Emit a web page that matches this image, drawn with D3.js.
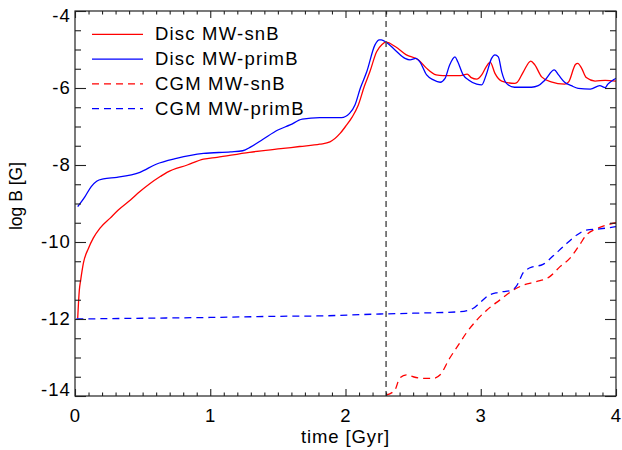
<!DOCTYPE html>
<html>
<head>
<meta charset="utf-8">
<script src="https://cdn.jsdelivr.net/npm/d3@7"></script>
<style>
  body { margin: 0; background: #fff; }
  svg { display: block; }
  text { font-family: "Liberation Sans", Arial, Helvetica, sans-serif; fill: #000; }
</style>
</head>
<body>
<svg id="chart" width="622" height="450"></svg>
<script>
// Disc, MW-snB run (log B in Gauss vs time in Gyr)
const discSnTime = [0.02, 0.032, 0.042, 0.062, 0.10, 0.135, 0.185, 0.26, 0.32, 0.41, 0.48, 0.555, 0.63, 0.68,
  0.83, 0.95, 1.05, 1.29, 1.54, 1.66, 1.81, 1.885, 1.96, 2.0, 2.05, 2.095, 2.14, 2.18, 2.23, 2.27, 2.30,
  2.37, 2.45, 2.54, 2.60, 2.67, 2.72, 2.85, 2.90, 2.93, 2.97, 3.007, 3.04, 3.07, 3.105, 3.155, 3.25, 3.27,
  3.315, 3.37, 3.40, 3.45, 3.52, 3.62, 3.65, 3.70, 3.717, 3.746, 3.78, 3.845, 3.92, 4.00];
const discSnLogB = [-11.98, -11.25, -10.99, -10.55, -10.16, -9.90, -9.64, -9.38, -9.17, -8.91, -8.69, -8.48, -8.30, -8.19,
  -8.00, -7.85, -7.80, -7.67, -7.57, -7.52, -7.46, -7.40, -7.18, -7.00, -6.75, -6.44, -5.95, -5.58, -5.06, -4.87, -4.81,
  -4.93, -5.14, -5.27, -5.49, -5.66, -5.68, -5.68, -5.64, -5.73, -5.77, -5.66, -5.45, -5.33, -5.62, -5.82, -5.88, -5.85,
  -5.58, -5.30, -5.40, -5.71, -5.84, -5.90, -5.84, -5.39, -5.36, -5.49, -5.73, -5.82, -5.80, -5.82];

// Disc, MW-primB run
const discPrimTime = [0.02, 0.074, 0.12, 0.16, 0.21, 0.31, 0.48, 0.60, 0.75, 0.95, 1.15, 1.24, 1.30, 1.39, 1.50, 1.59,
  1.68, 1.81, 1.97, 2.03, 2.07, 2.11, 2.157, 2.218, 2.25, 2.265, 2.30, 2.366, 2.44, 2.477, 2.52, 2.55, 2.60,
  2.65, 2.70, 2.736, 2.77, 2.81, 2.83, 2.87, 2.91, 2.97, 3.007, 3.04, 3.08, 3.105, 3.13, 3.155, 3.19, 3.25,
  3.375, 3.425, 3.475, 3.544, 3.575, 3.62, 3.67, 3.72, 3.81, 3.88, 3.92, 3.94, 3.98, 4.00];
const discPrimLogB = [-9.08, -8.82, -8.56, -8.42, -8.36, -8.32, -8.19, -7.98, -7.83, -7.70, -7.66, -7.63, -7.53, -7.33, -7.09, -6.96,
  -6.81, -6.77, -6.77, -6.66, -6.44, -6.00, -5.58, -4.88, -4.75, -4.75, -4.81, -5.01, -5.23, -5.27, -5.23, -5.32, -5.66,
  -5.79, -5.85, -5.75, -5.40, -5.19, -5.32, -5.66, -5.79, -5.90, -5.92, -5.66, -5.23, -5.14, -5.19, -5.58, -5.88, -5.98,
  -5.98, -5.94, -5.79, -5.53, -5.66, -5.85, -5.94, -6.01, -6.03, -5.94, -5.99, -5.90, -5.79, -5.75];

// CGM, MW-snB run
const cgmSnTime = [2.30, 2.366, 2.40, 2.45, 2.50, 2.575, 2.65, 2.70, 2.77, 2.834, 2.90, 2.97, 3.044, 3.14, 3.24,
  3.315, 3.41, 3.51, 3.586, 3.66, 3.73, 3.78, 3.86, 3.93, 4.00];
const cgmSnLogB = [-13.98, -13.84, -13.54, -13.45, -13.50, -13.54, -13.54, -13.45, -13.02, -12.68, -12.33, -12.03, -11.77, -11.51, -11.25,
  -11.12, -11.03, -10.90, -10.64, -10.42, -10.08, -9.82, -9.65, -9.56, -9.50];

// CGM, MW-primB run
const cgmPrimTime = [0.01, 0.5, 1.0, 1.5, 1.81, 2.255, 2.50, 2.85, 2.945, 2.99, 3.056, 3.13, 3.23, 3.265, 3.315,
  3.364, 3.46, 3.536, 3.61, 3.71, 3.78, 3.88, 4.00];
const cgmPrimLogB = [-12.00, -11.98, -11.96, -11.93, -11.92, -11.87, -11.85, -11.81, -11.72, -11.59, -11.39, -11.31, -11.25, -11.14, -10.79,
  -10.67, -10.58, -10.36, -10.12, -9.82, -9.69, -9.66, -9.60];

// Time of the vertical reference line
const markerTime = 2.3;

// Axis ticks
const xMajorTicks = [0, 1, 2, 3, 4];
const yMajorTicks = [-14, -12, -10, -8, -6, -4];
const xMinorTicks = d3.range(1, 40).map(i => i / 10).filter(v => !xMajorTicks.includes(v));
const yMinorTicks = d3.range(-28, -8).map(i => i / 2).filter(v => !yMajorTicks.includes(v));

// Legend entries
const seriesNames = ["Disc MW-snB", "Disc MW-primB", "CGM MW-snB", "CGM MW-primB"];
const seriesColors = ["#ff0000", "#0000ff", "#ff0000", "#0000ff"];
const seriesDashed = [false, false, true, true];

const svg = d3.select("#chart");
const plotLeft = 75, plotRight = 616, plotTop = 11, plotBottom = 396;
const x = d3.scaleLinear().domain([0, 4]).range([plotLeft, plotRight]);
const y = d3.scaleLinear().domain([-14, -4]).range([plotBottom, plotTop]);

const series = [
  d3.zip(discSnTime, discSnLogB),
  d3.zip(discPrimTime, discPrimLogB),
  d3.zip(cgmSnTime, cgmSnLogB),
  d3.zip(cgmPrimTime, cgmPrimLogB)
];

svg.append("clipPath").attr("id", "plotclip")
  .append("rect").attr("x", plotLeft).attr("y", plotTop)
  .attr("width", plotRight - plotLeft).attr("height", plotBottom - plotTop);

const line = d3.line()
  .x(d => x(d[0]))
  .y(d => y(d[1]))
  .curve(d3.curveMonotoneX);

const plot = svg.append("g").attr("clip-path", "url(#plotclip)");
series.forEach((s, i) => {
  plot.append("path")
    .attr("d", line(s))
    .attr("fill", "none")
    .attr("stroke", seriesColors[i])
    .attr("stroke-width", 1.3)
    .attr("stroke-dasharray", seriesDashed[i] ? "7,5" : null);
});

// vertical dashed marker
plot.append("line")
  .attr("x1", x(markerTime)).attr("x2", x(markerTime))
  .attr("y1", y(-4)).attr("y2", y(-14))
  .attr("stroke", "#555").attr("stroke-width", 1.5)
  .attr("stroke-dasharray", "6,4");

// axes: ticks point inward on all four sides
const fmt = d => String(d);
function styleAxis(g) {
  g.select(".domain").remove();
  g.selectAll(".tick line").attr("stroke", "#222").attr("stroke-width", 1.1);
  g.selectAll("text").style("font-size", "18.5px").style("letter-spacing", "1.1px")
    .style("font-family", '"Liberation Sans", Arial, sans-serif').attr("fill", "#000");
}

svg.append("g").attr("transform", `translate(0,${plotBottom})`)
  .call(d3.axisBottom(x).tickValues(xMajorTicks).tickSize(-7).tickPadding(13).tickFormat(fmt))
  .call(styleAxis);
svg.append("g").attr("transform", `translate(0,${plotBottom})`)
  .call(d3.axisBottom(x).tickValues(xMinorTicks).tickSize(-3.5).tickFormat(""))
  .call(styleAxis);
svg.append("g").attr("transform", `translate(0,${plotTop})`)
  .call(d3.axisTop(x).tickValues(xMajorTicks).tickSize(-7).tickFormat(""))
  .call(styleAxis);
svg.append("g").attr("transform", `translate(0,${plotTop})`)
  .call(d3.axisTop(x).tickValues(xMinorTicks).tickSize(-3.5).tickFormat(""))
  .call(styleAxis);

const yAxisG = svg.append("g").attr("transform", `translate(${plotLeft},0)`)
  .call(d3.axisLeft(y).tickValues(yMajorTicks).tickSize(-11).tickPadding(4).tickFormat(fmt))
  .call(styleAxis);
// keep the end labels inside the frame
yAxisG.selectAll(".tick text")
  .attr("y", d => d === y.domain()[1] ? 5 : d === y.domain()[0] ? -6.5 : 0);
svg.append("g").attr("transform", `translate(${plotLeft},0)`)
  .call(d3.axisLeft(y).tickValues(yMinorTicks).tickSize(-6).tickFormat(""))
  .call(styleAxis);
svg.append("g").attr("transform", `translate(${plotRight},0)`)
  .call(d3.axisRight(y).tickValues(yMajorTicks).tickSize(-11).tickFormat(""))
  .call(styleAxis);
svg.append("g").attr("transform", `translate(${plotRight},0)`)
  .call(d3.axisRight(y).tickValues(yMinorTicks).tickSize(-6).tickFormat(""))
  .call(styleAxis);

// frame
svg.append("rect")
  .attr("x", plotLeft).attr("y", plotTop)
  .attr("width", plotRight - plotLeft).attr("height", plotBottom - plotTop)
  .attr("fill", "none").attr("stroke", "#222").attr("stroke-width", 1.2);

// axis titles
svg.append("text")
  .attr("x", (plotLeft + plotRight) / 2).attr("y", 443)
  .attr("text-anchor", "middle")
  .style("font-size", "18.5px").style("letter-spacing", "0.9px")
  .text("time [Gyr]");
svg.append("text")
  .attr("transform", "translate(22,196) rotate(-90)")
  .attr("text-anchor", "middle")
  .style("font-size", "17.5px")
  .text("log B [G]");

// legend
const legend = svg.append("g");
seriesNames.forEach((name, i) => {
  const ly = 34.3 + i * 24.8;
  legend.append("line")
    .attr("x1", 92).attr("x2", 143).attr("y1", ly).attr("y2", ly)
    .attr("stroke", seriesColors[i]).attr("stroke-width", 1.3)
    .attr("stroke-dasharray", seriesDashed[i] ? "7,5" : null);
  legend.append("text")
    .attr("x", 155).attr("y", ly + 6)
    .style("font-size", "18.5px").style("letter-spacing", "1.2px")
    .text(name);
});
</script>
</body>
</html>
